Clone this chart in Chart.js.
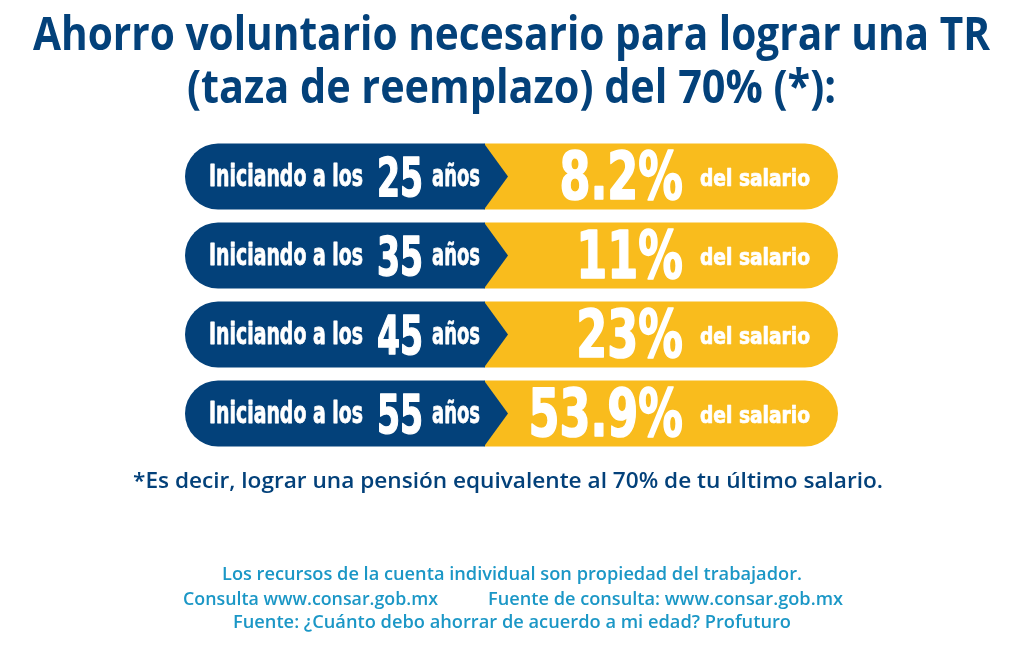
<!DOCTYPE html>
<html lang="es">
<head>
    <meta charset="UTF-8">
    <title>Ahorro voluntario necesario para lograr una TR del 70%</title>
    <script src="https://cdn.jsdelivr.net/npm/chart.js@4.4.0/dist/chart.umd.min.js"></script>
    <style>
        html, body { margin: 0; padding: 0; background: #ffffff; }
        #wrap { width: 1024px; height: 656px; position: relative; }
    </style>
</head>
<body>
    <div id="wrap"><canvas id="myChart"></canvas></div>
    <script>
        // data read from the infographic
        const ages = ['25', '35', '45', '55'];
        const savingPct = [8.2, 11, 23, 53.9];
        const rowStart = 'Iniciando a los';
        const rowUnit = 'años';
        const rowTail = 'del salario';

        const titleLines = [
            'Ahorro voluntario necesario para lograr una TR',
            '(taza de reemplazo) del 70% (*):'
        ];
        const footnote = '*Es decir, lograr una pensión equivalente al 70% de tu último salario.';
        const footerLines = [
            'Los recursos de la cuenta individual son propiedad del trabajador.',
            'Consulta www.consar.gob.mx',
            'Fuente de consulta: www.consar.gob.mx',
            'Fuente: ¿Cuánto debo ahorrar de acuerdo a mi edad? Profuturo'
        ];

        const navy = '#03417A';
        const yellow = '#F9BC1D';
        const cyan = '#1B97C6';
        const narrow = '"Liberation Sans Narrow", "Arial Narrow", "DejaVu Sans Condensed", Roboto, sans-serif';
        const humanist = '"Open Sans", "Noto Sans", sans-serif';

        // draw text squeezed/stretched to a given width, starting at left
        // (a thin stroke makes the condensed face look heavier, like the original)
        function fitText(ctx, txt, left, y, w, heavy) {
            const m = ctx.measureText(txt).width;
            ctx.save();
            ctx.translate(left, y);
            ctx.scale(w / m, 1);
            ctx.textAlign = 'left';
            ctx.fillText(txt, 0, 0);
            if (heavy) {
                ctx.lineWidth = heavy;
                ctx.strokeText(txt, 0, 0);
            }
            ctx.restore();
        }

        // same, but horizontal scale taken from the digit width
        function digitText(ctx, txt, right, y, digitW, heavy) {
            const sx = digitW / ctx.measureText('0').width;
            const m = ctx.measureText(txt).width * sx;
            ctx.save();
            ctx.translate(right - m, y);
            ctx.scale(sx, 1);
            ctx.textAlign = 'left';
            ctx.fillText(txt, 0, 0);
            if (heavy) {
                ctx.lineWidth = heavy;
                ctx.strokeText(txt, 0, 0);
            }
            ctx.restore();
        }

        const pillPlugin = {
            id: 'pills',
            afterDatasetsDraw(chart) {
                const ctx = chart.ctx;
                const left = chart.getDatasetMeta(0).data;
                const right = chart.getDatasetMeta(1).data;
                ctx.save();
                ctx.textBaseline = 'alphabetic';
                ctx.lineJoin = 'round';
                left.forEach(function (el, i) {
                    const top = el.y - el.height / 2;
                    const bottom = el.y + el.height / 2;
                    const endRight = right[i].x;

                    // arrow tip of the navy part
                    ctx.fillStyle = navy;
                    ctx.beginPath();
                    ctx.moveTo(el.x - 1, top);
                    ctx.lineTo(el.x + 23, el.y);
                    ctx.lineTo(el.x - 1, bottom);
                    ctx.closePath();
                    ctx.fill();

                    ctx.fillStyle = '#ffffff';
                    ctx.strokeStyle = '#ffffff';
                    ctx.font = 'bold 31px ' + narrow;
                    fitText(ctx, rowStart, el.base + 24, el.y + 9, 154, 0.8);
                    ctx.font = 'bold 53px ' + narrow;
                    fitText(ctx, ages[i], el.base + 192, el.y + 19, 46, 1.4);
                    ctx.font = 'bold 31px ' + narrow;
                    fitText(ctx, rowUnit, el.base + 247, el.y + 9, 48, 0.8);

                    ctx.font = 'bold 65px ' + narrow;
                    digitText(ctx, String(savingPct[i]) + '%', endRight - 155, el.y + 22, 31, 1.6);
                    ctx.font = 'bold 23px ' + narrow;
                    fitText(ctx, rowTail, endRight - 138, el.y + 9, 110, 0.7);
                });

                // titles and notes
                ctx.fillStyle = navy;
                ctx.font = '700 46px ' + humanist;
                fitText(ctx, titleLines[0], 33, 50, 957);
                fitText(ctx, titleLines[1], 187, 103, 649);
                ctx.font = '600 21px ' + humanist;
                fitText(ctx, footnote, 133, 488, 750);

                ctx.fillStyle = cyan;
                ctx.font = '600 18px ' + humanist;
                fitText(ctx, footerLines[0], 222, 580, 580);
                fitText(ctx, footerLines[1], 183, 605, 255);
                fitText(ctx, footerLines[2], 488, 605, 355);
                fitText(ctx, footerLines[3], 233, 628, 558);
                ctx.restore();
            }
        };

        const ctx = document.getElementById('myChart').getContext('2d');
        const myChart = new Chart(ctx, {
            type: 'bar',
            data: {
                labels: ages,
                datasets: [
                    {
                        // navy part of each pill, up to the arrow base
                        data: ages.map(function () { return 300; }),
                        backgroundColor: navy,
                        borderSkipped: false,
                        borderRadius: { topLeft: 33, bottomLeft: 33, topRight: 0, bottomRight: 0 }
                    },
                    {
                        // yellow part
                        data: ages.map(function () { return 353; }),
                        backgroundColor: yellow,
                        borderSkipped: false,
                        borderRadius: { topLeft: 0, bottomLeft: 0, topRight: 33, bottomRight: 33 }
                    }
                ]
            },
            options: {
                indexAxis: 'y',
                responsive: true,
                maintainAspectRatio: false,
                animation: false,
                events: [],
                layout: { padding: { left: 185, right: 186, top: 137, bottom: 203 } },
                datasets: { bar: { categoryPercentage: 1, barPercentage: 66 / 79 } },
                scales: {
                    x: { stacked: true, min: 0, max: 653, display: false },
                    y: { stacked: true, display: false }
                },
                plugins: {
                    legend: { display: false },
                    tooltip: { enabled: false }
                }
            },
            plugins: [pillPlugin]
        });
    </script>
</body>
</html>
